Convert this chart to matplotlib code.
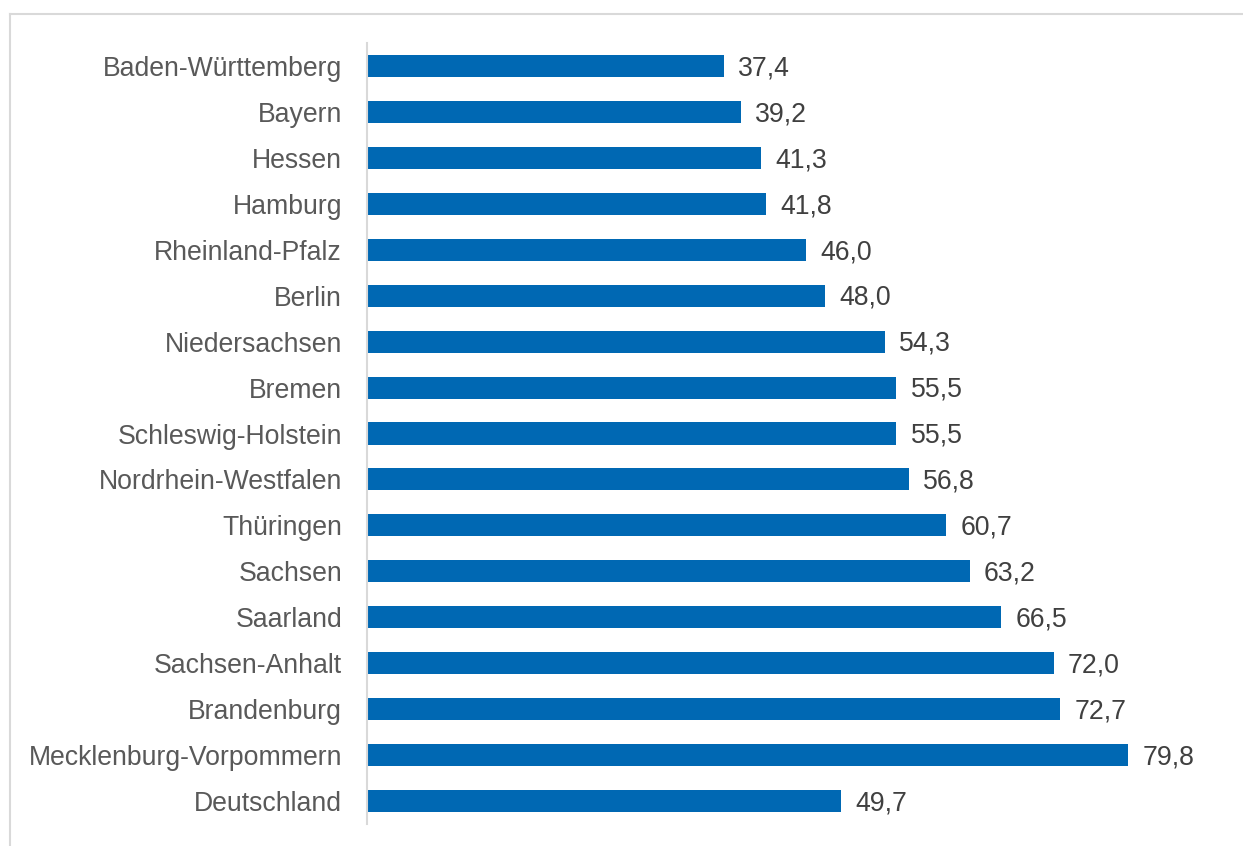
import matplotlib.pyplot as plt
from matplotlib.lines import Line2D

laender = ["Baden-Württemberg", "Bayern", "Hessen", "Hamburg", "Rheinland-Pfalz",
           "Berlin", "Niedersachsen", "Bremen", "Schleswig-Holstein",
           "Nordrhein-Westfalen", "Thüringen", "Sachsen", "Saarland",
           "Sachsen-Anhalt", "Brandenburg", "Mecklenburg-Vorpommern", "Deutschland"]
werte = [37.4, 39.2, 41.3, 41.8, 46.0, 48.0, 54.3, 55.5, 55.5, 56.8,
         60.7, 63.2, 66.5, 72.0, 72.7, 79.8, 49.7]

plt.rcParams['font.family'] = ['Liberation Sans', 'DejaVu Sans']
W, H = 1243, 846
fig = plt.figure(figsize=(W / 100, H / 100), dpi=100)

# light grey frame (top and left edges visible)
fig.add_artist(Line2D([10 / W, 10 / W], [0, 1 - 14 / H], color='#d9d9d9', lw=1.5))
fig.add_artist(Line2D([10 / W, 1], [1 - 14 / H, 1 - 14 / H], color='#d9d9d9', lw=1.5))

ax = fig.add_axes([367 / W, 1 - 824 / H, 1 - 367 / W, (824 - 43) / H])
pos = list(range(len(laender)))
ax.barh(pos, werte, height=0.48, color='#0068B3')
ax.set_ylim(len(laender) - 0.5, -0.5)
ax.set_xlim(0, (W - 367) / 9.536)
ax.set_yticks(pos)
ax.set_yticklabels(laender, fontsize=19.2, color='#595959')
ax.tick_params(axis='y', length=0, pad=18)
ax.set_xticks([])
for s in ['top', 'right', 'bottom']:
    ax.spines[s].set_visible(False)
ax.spines['left'].set_color('#d9d9d9')
ax.spines['left'].set_linewidth(1.5)

for p, v in zip(pos, werte):
    ax.text(v + 1.5, p + 0.05, f"{v:.1f}".replace('.', ','), va='center', ha='left',
            fontsize=19.2, color='#404040')

fig.savefig('out.png', dpi=100)
